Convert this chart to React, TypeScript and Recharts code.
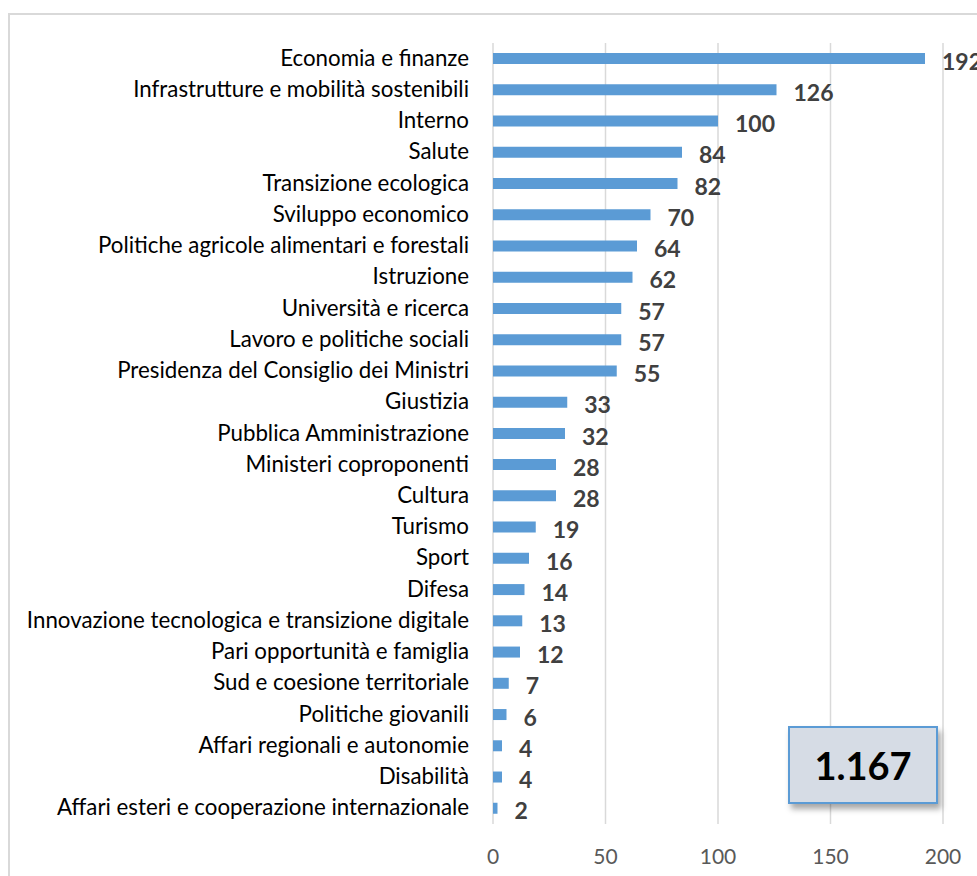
import { Bar, BarChart, CartesianGrid, LabelList, XAxis, YAxis } from "recharts";

const categories = [
  "Economia e finanze",
  "Infrastrutture e mobilità sostenibili",
  "Interno",
  "Salute",
  "Transizione ecologica",
  "Sviluppo economico",
  "Politiche agricole alimentari e forestali",
  "Istruzione",
  "Università e ricerca",
  "Lavoro e politiche sociali",
  "Presidenza del Consiglio dei Ministri",
  "Giustizia",
  "Pubblica Amministrazione",
  "Ministeri coproponenti",
  "Cultura",
  "Turismo",
  "Sport",
  "Difesa",
  "Innovazione tecnologica e transizione digitale",
  "Pari opportunità e famiglia",
  "Sud e coesione territoriale",
  "Politiche giovanili",
  "Affari regionali e autonomie",
  "Disabilità",
  "Affari esteri e cooperazione internazionale",
];

const counts = [192, 126, 100, 84, 82, 70, 64, 62, 57, 57, 55, 33, 32, 28, 28, 19, 16, 14, 13, 12, 7, 6, 4, 4, 2];

const xTicks = [0, 50, 100, 150, 200];

const rows = categories.map((name, i) => ({ name, value: counts[i] }));

const total = counts.reduce((a, b) => a + b, 0);
const totalLabel = String(total).replace(/\B(?=(\d{3})+(?!\d))/g, ".");

const FONT = "Lato, 'Open Sans', sans-serif";
const BLUE = "#5b9bd5";
const GRID = "#d9d9d9";

function CatTick({ x, y, payload }: any) {
  return (
    <text x={x - 16} y={y} dy={7} textAnchor="end" fill="#000" fontSize={22.3} fontFamily={FONT}>
      {payload.value}
    </text>
  );
}

function NumTick({ x, y, payload }: any) {
  return (
    <text x={x} y={y} dy={32} textAnchor="middle" fill="#595959" fontSize={21} fontFamily={FONT}>
      {payload.value}
    </text>
  );
}

export default function App() {
  return (
    <div
      style={{
        position: "fixed",
        left: 0,
        top: 0,
        width: 977,
        height: 876,
        overflow: "hidden",
        background: "#fff",
      }}
    >
      <div
        style={{
          position: "absolute",
          left: 8,
          top: 13,
          width: 1100,
          height: 1000,
          border: "2px solid #d9d9d9",
        }}
      />
      <div style={{ position: "absolute", left: 0, top: 0 }}>
        <BarChart
          width={977}
          height={876}
          data={rows}
          layout="vertical"
          margin={{ top: 43, right: 34, bottom: 0, left: 0 }}
          barSize={11}
        >
          <CartesianGrid horizontal={false} stroke={GRID} strokeWidth={1.5} />
          <XAxis
            type="number"
            domain={[0, 200]}
            ticks={xTicks}
            axisLine={false}
            tickLine={false}
            tick={<NumTick />}
            height={52}
          />
          <YAxis
            type="category"
            dataKey="name"
            width={493}
            axisLine={false}
            tickLine={false}
            tick={<CatTick />}
            interval={0}
          />
          <Bar dataKey="value" fill={BLUE} isAnimationActive={false}>
            <LabelList
              dataKey="value"
              position="right"
              offset={17}
              fill="#404040"
              fontSize={23}
              fontWeight={700}
              fontFamily={FONT}
              dy={3}
            />
          </Bar>
        </BarChart>
      </div>
      <div
        style={{
          position: "absolute",
          left: 788,
          top: 726,
          width: 146,
          height: 74,
          background: "#d6dce5",
          border: "2px solid #5b9bd5",
          boxShadow: "3px 5px 6px rgba(0,0,0,0.35)",
          display: "flex",
          alignItems: "center",
          justifyContent: "center",
          fontFamily: FONT,
          fontWeight: 700,
          fontSize: 38,
          color: "#000",
        }}
      >
        {totalLabel}
      </div>
    </div>
  );
}
